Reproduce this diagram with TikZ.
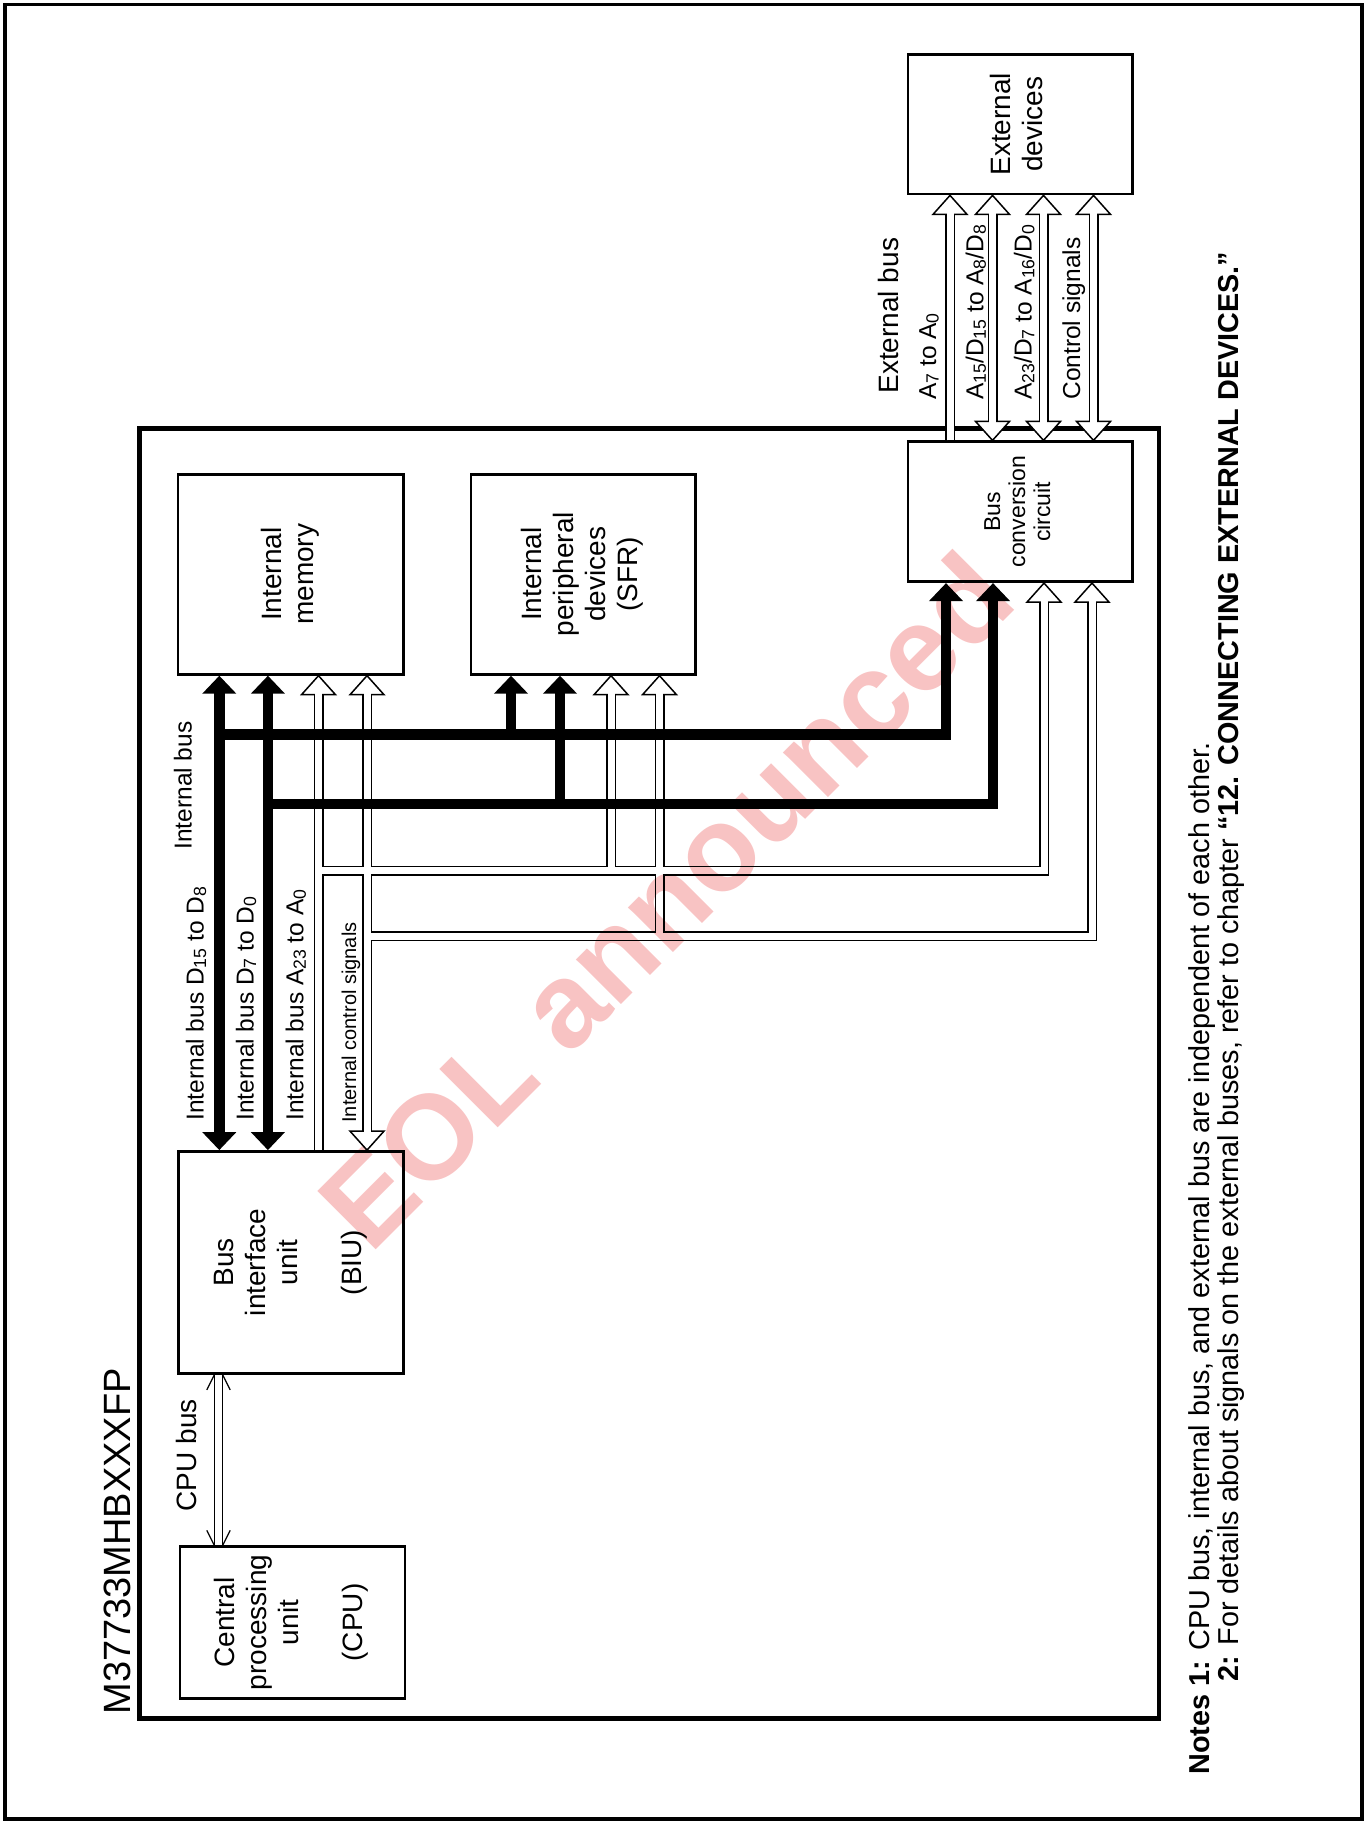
\documentclass[tikz,border=0pt]{standalone}
\usepackage{fontspec}
\setmainfont{Liberation Sans}
\usetikzlibrary{arrows.meta,positioning}

\definecolor{eolpink}{RGB}{248,195,195}

% small, slightly lowered index digits
\newcommand\lowidx[1]{\raisebox{-0.2ex}{\scalebox{0.72}{#1}}}
% rotated, centred text for the unit boxes
\newcommand\vlines[1]{\rotatebox{90}{\begin{tabular}{@{}c@{}}#1\end{tabular}}}
% open arrow heads of the hollow buses (tip at #1)
\newcommand\headup[1]{\filldraw[hollowtip] (#1) -- ++(-17,19) -- ++(34,0) -- cycle;}
\newcommand\headdown[1]{\filldraw[hollowtip] (#1) -- ++(-17,-19) -- ++(34,0) -- cycle;}
% all hollow buses, drawn once black (wide) and once white (narrow)
\newcommand\hollowbuses[2]{%
  \draw[#1, shorten >=#2] (ab |- biu.north) -- (ab |- mem.south);
  \draw[#1, shorten >=#2] (ab |- ya) -- (ac |- ya) -- (ac |- bcc.south);
  \draw[#1, shorten >=#2] (ap |- ya) -- (ap |- sfr.south);
  \draw[#1, shorten <=#2, shorten >=#2] (cb |- biu.north) -- (cb |- mem.south);
  \draw[#1, shorten >=#2] (cb |- yc) -- (cc |- yc) -- (cc |- bcc.south);
  \draw[#1, shorten >=#2] (cp |- yc) -- (cp |- sfr.south);
  \draw[#1, shorten >=#2] (e0 |- bcc.north) -- (e0 |- ext.south);
  \foreach \l in {e1,e2,e3}
    \draw[#1, shorten <=#2, shorten >=#2] (\l |- bcc.north) -- (\l |- ext.south);
}

\begin{document}
\begin{tikzpicture}[x=0.5pt, y=-0.5pt,
  >={Triangle[length=9pt,width=16.5pt]},
  unitbox/.style={draw, line width=1.4pt, inner sep=0pt, font=\fontsize{14}{16}\selectfont},
  buslabel/.style={rotate=90, anchor=base west, inner sep=0pt, font=\fontsize{12.25}{14}\selectfont},
  biglabel/.style={buslabel, font=\fontsize{14}{16}\selectfont},
  databus/.style={line width=5.35pt},
  pipeout/.style={line width=5pt, line join=miter},
  pipein/.style={line width=3.5pt, white, line join=miter},
  hollowtip/.style={fill=white, draw=black, line width=0.75pt, line join=miter},
  cpubus/.style={line width=0.6pt, double distance=3.6pt},
  barb/.style={line width=0.6pt},
]
\useasboundingbox (0,0) rectangle (1369,1823);

% frames
\draw[line width=1.75pt] (5,4.5) rectangle (1362,1819);
\node[draw, line width=2.25pt, inner sep=0pt, minimum width=509.85pt, minimum height=645.05pt] (chip) at (649.15,1073.35) {};
\node[buslabel, font=\fontsize{19}{22}\selectfont] (title) at (130,1715) {M37733MHBXXXFP};

% units
\node[unitbox, minimum width=112.75pt, minimum height=100pt] (mem) at (290.65,574.3) {\vlines{Internal\\memory}};
\node[unitbox, minimum width=112.35pt, minimum height=100pt] (sfr) at (583.25,574.3) {\vlines{Internal\\peripheral\\devices\\(SFR)}};
\node[unitbox, minimum width=112.2pt, minimum height=69.95pt, font=\fontsize{11.5}{12.5}\selectfont] (bcc) at (1020.2,511.75) {\vlines{Bus\\conversion\\circuit}};
\node[unitbox, minimum width=112.2pt, minimum height=69.7pt] (ext) at (1020.2,124.3) {\vlines{External\\devices}};
\node[unitbox, minimum width=112.5pt, minimum height=111pt] (biu) at (290.8,1262.5) {\vlines{Bus\\interface\\unit\\ \\(BIU)}};
\node[unitbox, minimum width=112.5pt, minimum height=75.8pt] (cpu) at (292.5,1622.5) {\vlines{Central\\processing\\unit\\ \\(CPU)}};

% bus lanes
\coordinate (d1m) at (219.3,0);  \coordinate (d0m) at (267.9,0);
\coordinate (d1p) at (511,0);    \coordinate (d0p) at (560,0);
\coordinate (d1c) at (946,0);    \coordinate (d0c) at (993,0);
\coordinate (yd1) at (0,734.3);  \coordinate (yd0) at (0,803.9);
\coordinate (ab) at (318.5,0);   \coordinate (cb) at (367,0);
\coordinate (ap) at (611,0);     \coordinate (cp) at (659.5,0);
\coordinate (ac) at (1044,0);    \coordinate (cc) at (1092,0);
\coordinate (ya) at (0,870.5);   \coordinate (yc) at (0,936);
\coordinate (e0) at (950,0);     \coordinate (e1) at (992.5,0);
\coordinate (e2) at (1043.5,0);  \coordinate (e3) at (1093.5,0);

% hollow buses
\hollowbuses{pipeout}{9.5pt}
\headup{ab |- mem.south}
\headup{cb |- mem.south}
\headdown{cb |- biu.north}
\headup{ap |- sfr.south}
\headup{cp |- sfr.south}
\headup{ac |- bcc.south}
\headup{cc |- bcc.south}
\headup{e0 |- ext.south}
\foreach \l in {e1,e2,e3}{
  \headup{\l |- ext.south}
  \headdown{\l |- bcc.north}
}
\hollowbuses{pipein}{8.5pt}

% data buses
\draw[databus,<->] (d1m |- biu.north) -- (d1m |- mem.south);
\draw[databus,<->] (d0m |- biu.north) -- (d0m |- mem.south);
\draw[databus,->] (d1m |- yd1) -- (d1c |- yd1) -- (d1c |- bcc.south);
\draw[databus,->] (d1p |- yd1) -- (d1p |- sfr.south);
\draw[databus,->] (d0m |- yd0) -- (d0c |- yd0) -- (d0c |- bcc.south);
\draw[databus,->] (d0p |- yd0) -- (d0p |- sfr.south);

% CPU bus
\coordinate (cpul) at (218.5,0);
\coordinate (cbT) at (biu.south -| cpul);
\coordinate (cbB) at (cpu.north -| cpul);
\draw[cpubus] (cbT) -- (cbB);
\draw[barb] ([xshift=-2.1pt]cbT) -- ++(-7.5,15) ([xshift=2.1pt]cbT) -- ++(7.5,15);
\draw[barb] ([xshift=-2.1pt]cbB) -- ++(-7.5,-15) ([xshift=2.1pt]cbB) -- ++(7.5,-15);

% labels
\node[biglabel] (lcpu) at (196.7,1511.7) {CPU bus};
\node[buslabel] (lint) at (191.7,850) {Internal bus};
\node[buslabel] (ld1) at (203.5,1121) {Internal bus D\lowidx{15} to D\lowidx{8}};
\node[buslabel] (ld0) at (253.5,1121) {Internal bus D\lowidx{7} to D\lowidx{0}};
\node[buslabel] (lab) at (303.3,1121) {Internal bus A\lowidx{23} to A\lowidx{0}};
\node[buslabel, font=\fontsize{10}{12}\selectfont] (lcb) at (356,1123) {Internal control signals};
\node[biglabel] (lext) at (898,394) {External bus};
\node[buslabel] (le0) at (936,400) {A\lowidx{7} to A\lowidx{0}};
\node[buslabel] (le1) at (983.3,400) {A\lowidx{15}/D\lowidx{15} to A\lowidx{8}/D\lowidx{8}};
\node[buslabel] (le2) at (1031.7,400) {A\lowidx{23}/D\lowidx{7} to A\lowidx{16}/D\lowidx{0}};
\node[buslabel] (le3) at (1080,400) {Control signals};

% notes
\node[buslabel, font=\fontsize{14.4}{16}\selectfont] (note1) at (1209,1775) {\textbf{Notes 1:} CPU bus, internal bus, and external bus are independent of each other.};
\node[buslabel, font=\fontsize{14.4}{16}\selectfont] (note2) at (1238,1682) {\textbf{2:} For details about signals on the external buses, refer to chapter \textbf{“12. CONNECTING EXTERNAL DEVICES.”}};

% watermark
\begin{scope}[blend mode=multiply]
\node[rotate=45, text=eolpink, font=\fontsize{60}{60}\selectfont\bfseries] (eol) at (665,900) {EOL announced};
\end{scope}
\end{tikzpicture}
\end{document}
